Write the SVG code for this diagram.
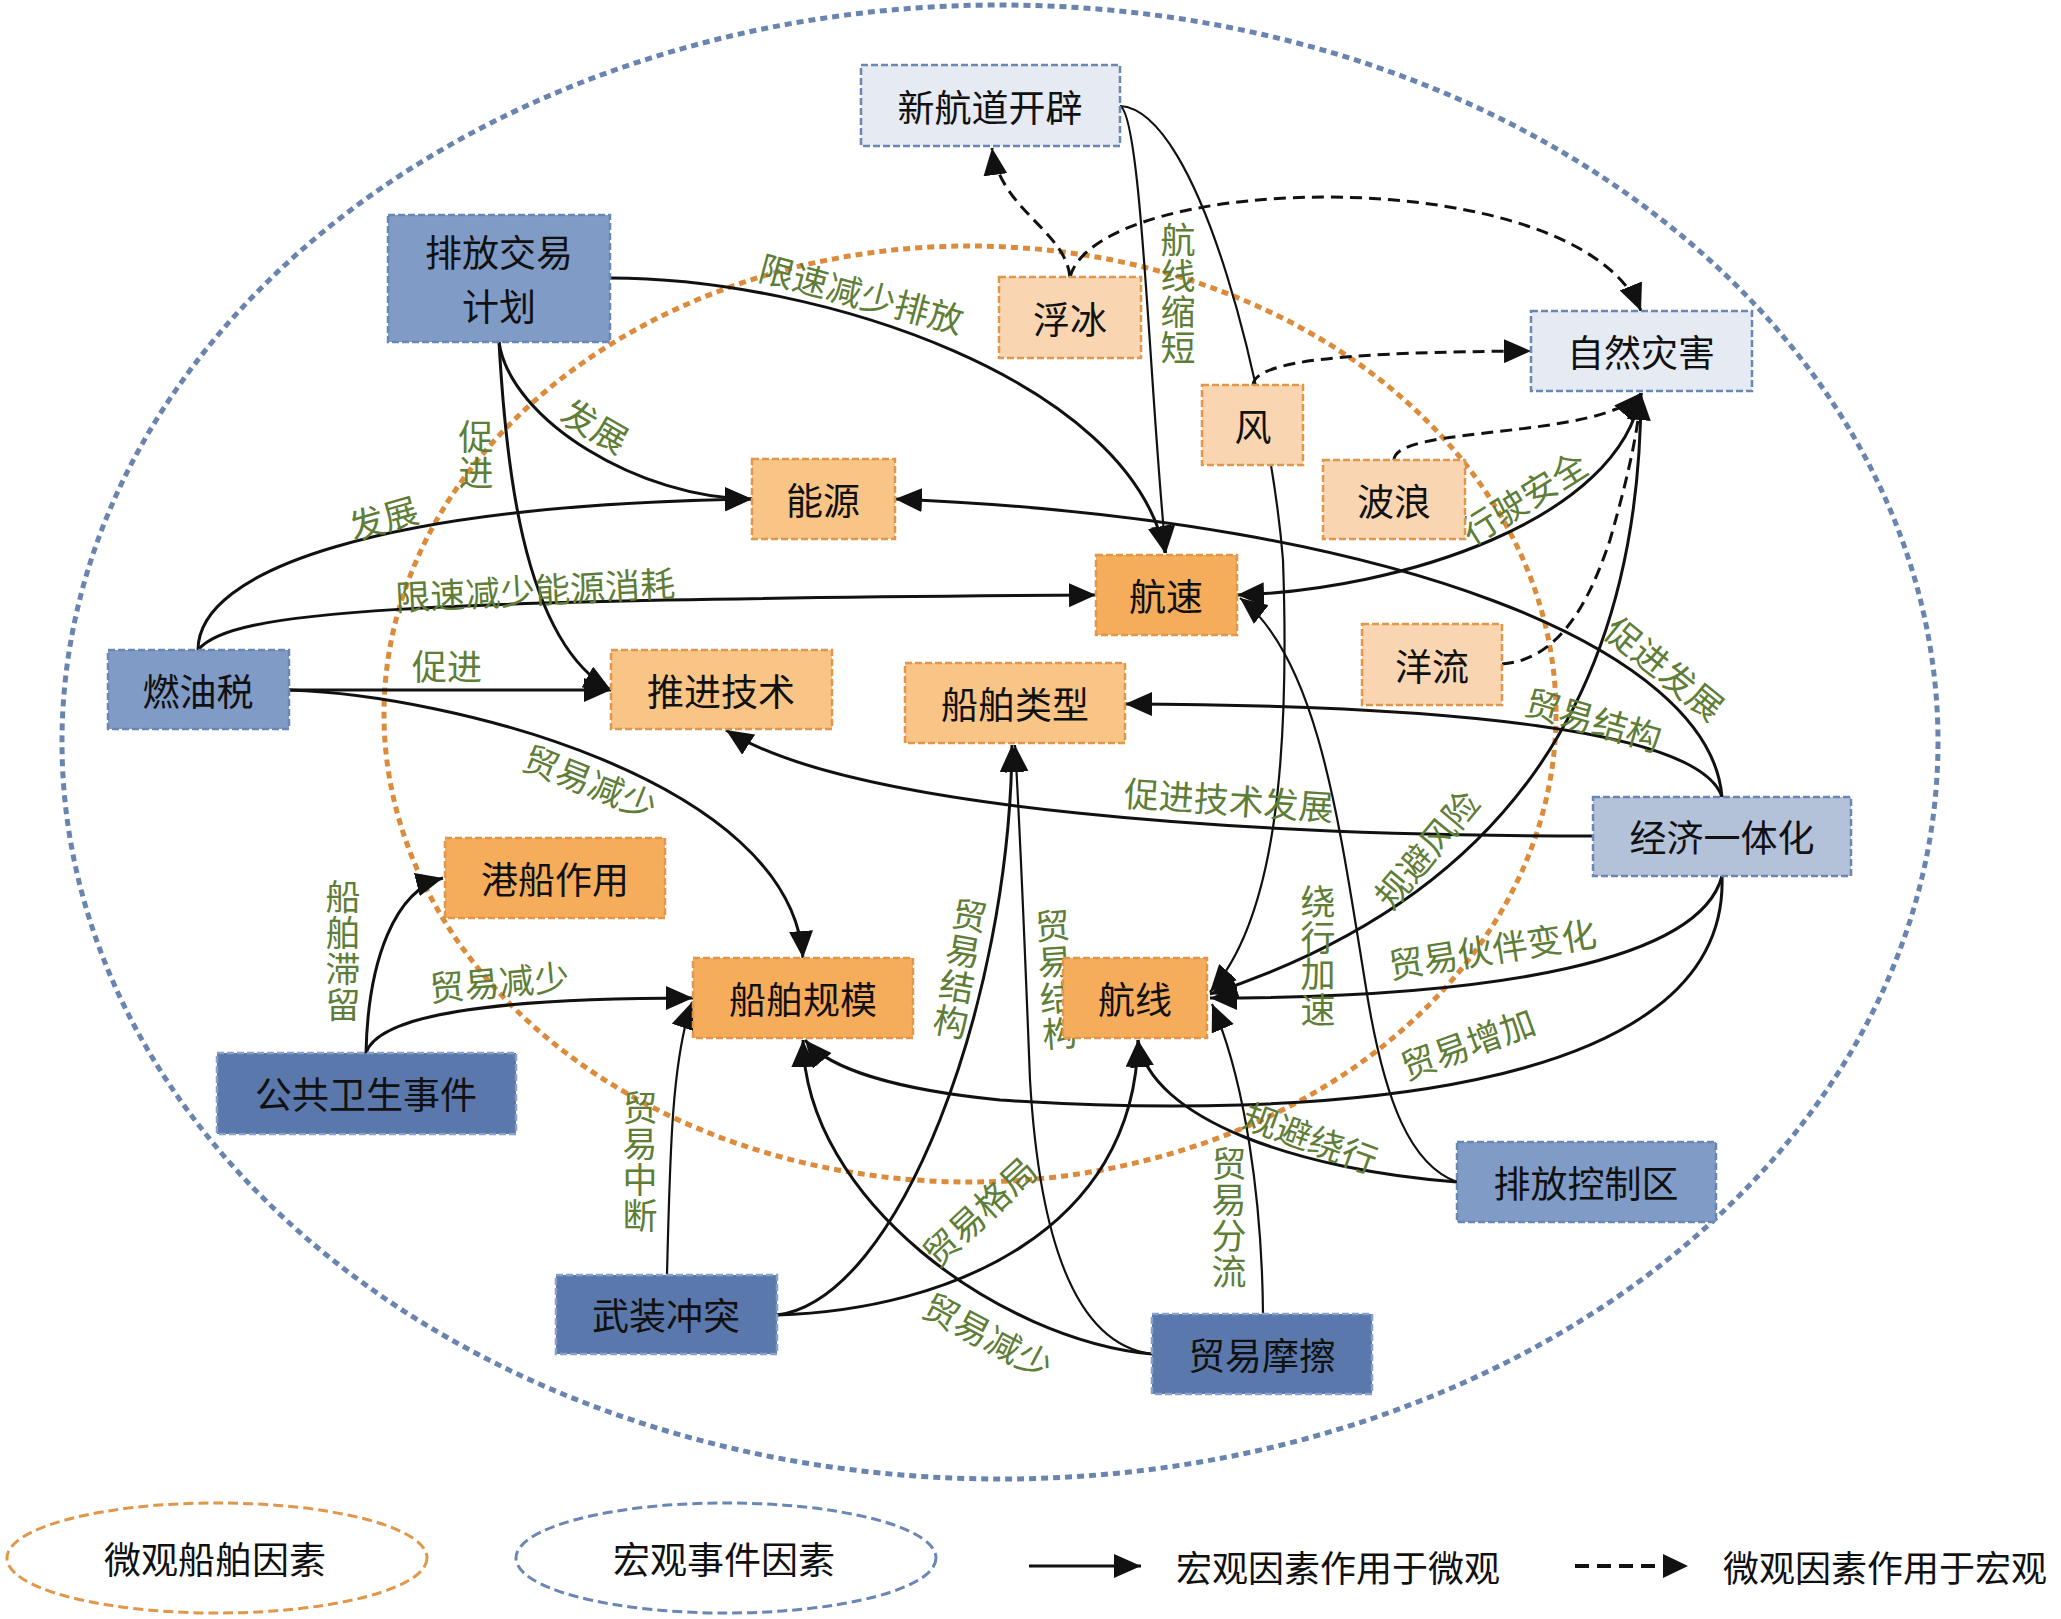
<svg xmlns="http://www.w3.org/2000/svg" width="2061" height="1619" viewBox="0 0 2061 1619">
<style>
.bg{fill:#ffffff}
.outer{fill:none;stroke:#6a84b0;stroke-width:5;stroke-dasharray:7 5}
.inner{fill:none;stroke:#dc8b3a;stroke-width:5;stroke-dasharray:7 5}
.mac{stroke:#6a86b4;stroke-width:2.5;stroke-dasharray:7 3}
.macd{stroke:#86a0c9;stroke-width:2.5;stroke-dasharray:7 3}
.m1{fill:#5a78ab}
.m2{fill:#7f9bc6}
.m3{fill:#b3c1d9}
.m4{fill:#e5eaf3}
.mic{stroke:#e0974a;stroke-width:2.5;stroke-dasharray:7 3}
.o1{fill:#f5ad5c}
.o2{fill:#f8c586}
.o3{fill:#f9d6b1}
.nt{font-family:"Noto Sans CJK SC","Noto Sans",sans-serif;font-size:37px;fill:#111;text-anchor:middle;dominant-baseline:central}
.lb{font-family:"Noto Sans CJK SC","Noto Sans",sans-serif;font-size:35px;fill:#5e7d36;text-anchor:middle;dominant-baseline:central}
.lv{font-family:"Noto Sans CJK SC","Noto Sans",sans-serif;font-size:35px;fill:#5e7d36;text-anchor:middle;writing-mode:vertical-rl;letter-spacing:1px}
.lg{font-family:"Noto Sans CJK SC","Noto Sans",sans-serif;font-size:36px;fill:#111;dominant-baseline:central}
.s{fill:none;stroke:#111;stroke-width:3;marker-end:url(#ah)}
.t{fill:none;stroke:#111;stroke-width:2.2;marker-end:url(#ah)}
.d{fill:none;stroke:#111;stroke-width:3;stroke-dasharray:12 7;marker-end:url(#ah)}
.leo{fill:none;stroke:#e0974a;stroke-width:3;stroke-dasharray:10 5}
.leb{fill:none;stroke:#6a86b4;stroke-width:3;stroke-dasharray:10 5}
</style>
<defs>
<marker id="ah" markerWidth="28" markerHeight="24" refX="27" refY="12" orient="auto" markerUnits="userSpaceOnUse">
<path d="M0,0 L27,12 L0,24 z" fill="#111"/>
</marker>
</defs>
<rect class="bg" x="0" y="0" width="2061" height="1619"/>

<g id="regions">
<ellipse class="outer" cx="1000" cy="742" rx="938" ry="737"/>
<ellipse class="inner" cx="970" cy="714" rx="586" ry="468"/>
</g>

<g id="connectors">
<!-- solid: macro to micro -->
<path class="s" d="M610,278 C820,278 1130,380 1165,553"/>
<path class="t" d="M1120,106 C1142,115 1150,400 1166,553"/>
<path class="t" d="M1120,106 C1200,110 1270,400 1283,560 C1290,760 1275,920 1210,992"/>
<path class="s" d="M198,650 C198,570 380,505 752,499"/>
<path class="s" d="M198,650 C230,610 400,600 1096,595"/>
<path class="s" d="M499,342 C510,420 640,499 752,499"/>
<path class="s" d="M499,342 C505,450 520,640 611,690"/>
<path class="s" d="M289,690 L611,690"/>
<path class="s" d="M289,690 C450,695 790,780 803,958"/>
<path class="s" d="M366,1053 C368,960 395,890 443,878"/>
<path class="s" d="M366,1053 C380,1010 520,998 693,998"/>
<path class="t" d="M667,1275 C670,1150 672,1060 692,1002"/>
<path class="s" d="M777,1315 C900,1300 1010,1000 1012,745"/>
<path class="t" d="M1152,1354 C1080,1345 1040,1250 1030,1080 C1025,950 1020,830 1015,745"/>
<path class="s" d="M1152,1354 C1000,1340 805,1200 803,1040"/>
<path class="s" d="M777,1315 C950,1310 1135,1230 1138,1040"/>
<path class="s" d="M1457,1182 C1300,1170 1150,1120 1138,1040"/>
<path class="t" d="M1457,1182 C1410,1165 1385,1100 1368,1000 C1340,830 1320,660 1240,598"/>
<path class="s" d="M1641,393 C1620,520 1400,590 1237,595"/>
<path class="s" d="M1641,393 C1640,700 1500,900 1210,994"/>
<path class="s" d="M1722,876 C1700,960 1500,998 1210,998"/>
<path class="s" d="M1722,876 C1730,1100 1300,1120 1000,1100 C900,1090 830,1070 805,1040"/>
<path class="s" d="M1593,836 C1250,836 850,810 726,730"/>
<path class="s" d="M1722,797 C1700,730 1450,705 1125,704"/>
<path class="s" d="M1722,797 C1710,650 1400,520 895,499"/>
<path class="t" d="M1263,1314 C1262,1200 1245,1080 1212,1004"/>
<!-- dashed: micro to macro -->
<path class="d" d="M1070,277 C1065,230 1000,210 992,148"/>
<path class="d" d="M1070,277 C1100,170 1580,160 1641,311"/>
<path class="d" d="M1253,385 C1255,360 1350,352 1531,351"/>
<path class="d" d="M1394,460 C1395,425 1600,440 1641,393"/>
<path class="d" d="M1502,664 C1560,660 1590,600 1610,540 C1630,470 1638,430 1641,393"/>
</g>

<g id="edge-labels">
<text class="lb" transform="translate(862,292) rotate(15)">限速减少排放</text>
<text class="lv" x="1178" y="294">航线缩短</text>
<text class="lb" transform="translate(596,424) rotate(30)">发展</text>
<text class="lv" x="476" y="455">促进</text>
<text class="lb" transform="translate(383,516) rotate(-16)">发展</text>
<text class="lb" transform="translate(535,588) rotate(-3)">限速减少能源消耗</text>
<text class="lb" x="447" y="664">促进</text>
<text class="lb" transform="translate(591,780) rotate(22)">贸易减少</text>
<text class="lv" x="343" y="951">船舶滞留</text>
<text class="lb" transform="translate(499,980) rotate(-5)">贸易减少</text>
<text class="lv" transform="rotate(10 960 969)" x="960" y="969">贸易结构</text>
<text class="lv" transform="rotate(-4 1056 980)" x="1056" y="980">贸易结构</text>
<text class="lv" x="640" y="1162">贸易中断</text>
<text class="lb" transform="translate(978,1210) rotate(-43)">贸易格局</text>
<text class="lb" transform="translate(989,1334) rotate(28)">贸易减少</text>
<text class="lv" x="1229" y="1218">贸易分流</text>
<text class="lb" transform="translate(1311,1136) rotate(20)">规避绕行</text>
<text class="lb" transform="translate(1467,1042) rotate(-20)">贸易增加</text>
<text class="lb" transform="translate(1492,947) rotate(-9)">贸易伙伴变化</text>
<text class="lv" x="1318" y="956">绕行加速</text>
<text class="lb" transform="translate(1425,848) rotate(-50)">规避风险</text>
<text class="lb" transform="translate(1229,798) rotate(4)">促进技术发展</text>
<text class="lb" transform="translate(1594,718) rotate(16)">贸易结构</text>
<text class="lb" transform="translate(1666,667) rotate(39)">促进发展</text>
<text class="lb" transform="translate(1523,496) rotate(-32)">行驶安全</text>
</g>

<g id="n-xinhangdao"><rect class="m4 mac" x="861" y="65" width="259" height="81"/><text class="nt" x="990" y="106">新航道开辟</text></g>
<g id="n-paifangjiaoyi"><rect class="m2 mac" x="388" y="215" width="222" height="127"/><text class="nt" x="499" y="251">排放交易</text><text class="nt" x="499" y="305">计划</text></g>
<g id="n-fubing"><rect class="o3 mic" x="999" y="277" width="142" height="81"/><text class="nt" x="1070" y="318">浮冰</text></g>
<g id="n-ziranzaihai"><rect class="m4 mac" x="1531" y="311" width="221" height="80"/><text class="nt" x="1641" y="351">自然灾害</text></g>
<g id="n-feng"><rect class="o3 mic" x="1202" y="385" width="101" height="80"/><text class="nt" x="1253" y="425">风</text></g>
<g id="n-bolang"><rect class="o3 mic" x="1323" y="460" width="142" height="79"/><text class="nt" x="1394" y="500">波浪</text></g>
<g id="n-nengyuan"><rect class="o2 mic" x="752" y="459" width="143" height="80"/><text class="nt" x="823" y="499">能源</text></g>
<g id="n-hangsu"><rect class="o1 mic" x="1096" y="555" width="141" height="80"/><text class="nt" x="1166" y="595">航速</text></g>
<g id="n-yangliu"><rect class="o3 mic" x="1362" y="624" width="140" height="81"/><text class="nt" x="1432" y="665">洋流</text></g>
<g id="n-ranyoushui"><rect class="m2 mac" x="108" y="650" width="181" height="79"/><text class="nt" x="198" y="690">燃油税</text></g>
<g id="n-tuijinjishu"><rect class="o2 mic" x="611" y="650" width="221" height="79"/><text class="nt" x="721" y="690">推进技术</text></g>
<g id="n-chuanboleixing"><rect class="o2 mic" x="905" y="663" width="220" height="80"/><text class="nt" x="1015" y="703">船舶类型</text></g>
<g id="n-jingjiyitihua"><rect class="m3 mac" x="1593" y="797" width="258" height="79"/><text class="nt" x="1722" y="836">经济一体化</text></g>
<g id="n-gangchuanzuoyong"><rect class="o1 mic" x="445" y="838" width="220" height="80"/><text class="nt" x="555" y="878">港船作用</text></g>
<g id="n-chuanboguimo"><rect class="o1 mic" x="693" y="958" width="220" height="80"/><text class="nt" x="803" y="998">船舶规模</text></g>
<g id="n-hangxian"><rect class="o1 mic" x="1063" y="958" width="144" height="80"/><text class="nt" x="1135" y="998">航线</text></g>
<g id="n-gonggongweisheng"><rect class="m1 macd" x="217" y="1053" width="299" height="81"/><text class="nt" x="366" y="1093">公共卫生事件</text></g>
<g id="n-paifangkongzhiqu"><rect class="m2 mac" x="1457" y="1142" width="259" height="80"/><text class="nt" x="1586" y="1182">排放控制区</text></g>
<g id="n-wuzhuangchongtu"><rect class="m1 macd" x="556" y="1275" width="221" height="79"/><text class="nt" x="666" y="1314">武装冲突</text></g>
<g id="n-maoyimoca"><rect class="m1 macd" x="1152" y="1314" width="220" height="80"/><text class="nt" x="1262" y="1354">贸易摩擦</text></g>

<g id="legend">
<ellipse class="leo" cx="217" cy="1558" rx="210" ry="55"/>
<text class="nt" x="215" y="1558">微观船舶因素</text>
<ellipse class="leb" cx="726" cy="1558" rx="210" ry="55"/>
<text class="nt" x="724" y="1558">宏观事件因素</text>
<path class="s" d="M1029,1566 L1141,1566"/>
<text class="lg" x="1176" y="1566">宏观因素作用于微观</text>
<path fill="none" stroke="#111" stroke-width="4" stroke-dasharray="14 8" d="M1575,1566 L1664,1566"/>
<path d="M1663,1554 L1688,1566 L1663,1578 z" fill="#111"/>
<text class="lg" x="1723" y="1566">微观因素作用于宏观</text>
</g>
</svg>
